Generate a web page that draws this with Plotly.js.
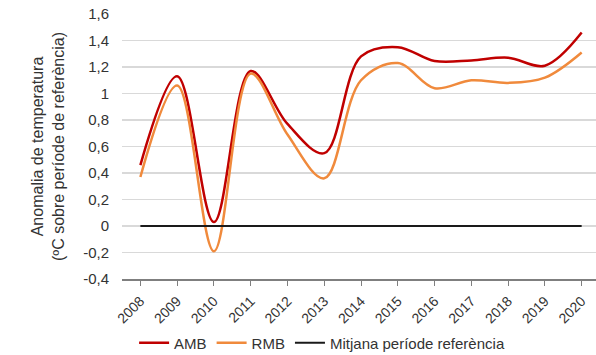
<!DOCTYPE html>
<html>
<head>
<meta charset="utf-8">
<script src="https://cdn.plot.ly/plotly-3.0.1.min.js"></script>
<style>html,body{margin:0;padding:0;background:#fff;}#chart{width:596px;height:355px;}</style>
</head>
<body>
<div id="chart"></div>
<script>
const years = ["2008","2009","2010","2011","2012","2013","2014","2015","2016","2017","2018","2019","2020"];
const amb = [0.46, 1.13, 0.03, 1.17, 0.77, 0.55, 1.28, 1.35, 1.245, 1.25, 1.27, 1.21, 1.46];
const rmb = [0.37, 1.06, -0.19, 1.15, 0.69, 0.36, 1.10, 1.23, 1.04, 1.10, 1.08, 1.12, 1.31];
const reference = [0, 0, 0, 0, 0, 0, 0, 0, 0, 0, 0, 0, 0];
const yTicks = [-0.4, -0.2, 0, 0.2, 0.4, 0.6, 0.8, 1, 1.2, 1.4, 1.6];
const yTickText = ["-0,4", "-0,2", "0", "0,2", "0,4", "0,6", "0,8", "1", "1,2", "1,4", "1,6"];

const font = "Liberation Sans, Arial, sans-serif";
const traces = [
  {x: years, y: amb, name: "AMB", type: "scatter", mode: "lines",
   line: {color: "#C00000", width: 2.5, shape: "spline", smoothing: 1}},
  {x: years, y: rmb, name: "RMB", type: "scatter", mode: "lines",
   line: {color: "#F08A3C", width: 2.5, shape: "spline", smoothing: 1}},
  {x: years, y: reference, name: "Mitjana període referència", type: "scatter", mode: "lines",
   line: {color: "#1a1a1a", width: 2}}
];
const layout = {
  width: 596, height: 355,
  margin: {l: 122, r: 0, t: 14, b: 76, autoexpand: false},
  paper_bgcolor: "#fff", plot_bgcolor: "#fff",
  font: {family: font, size: 15, color: "#333"},
  showlegend: true,
  legend: {orientation: "h", xref: "container", yref: "container",
           x: 0.225, xanchor: "left", y: 0.034, yanchor: "middle",
           font: {family: font, size: 15, color: "#333"}, traceorder: "normal", itemwidth: 30},
  xaxis: {type: "category", range: [-0.5, 12.39], showgrid: false, zeroline: false,
          showline: true, linecolor: "#7f7f7f", linewidth: 1.5,
          ticks: "outside", ticklen: 5, tickcolor: "#7f7f7f", tickangle: -45,
          tickfont: {family: font, size: 14, color: "#333"}, ticklabelstandoff: 2},
  yaxis: {range: [-0.4, 1.6], tickvals: yTicks, ticktext: yTickText, showgrid: true,
          gridcolor: "#d9d9d9", gridwidth: 1.2, zeroline: false, showline: false,
          tickfont: {family: font, size: 15, color: "#333"}, ticklabelstandoff: 12,
          title: {text: "Anomalia de temperatura<br>(ºC sobre període de referència)",
                  font: {family: font, size: 16, color: "#333"}, standoff: 14}}
};
Plotly.newPlot("chart", traces, layout, {displayModeBar: false, staticPlot: true});
</script>
</body>
</html>
